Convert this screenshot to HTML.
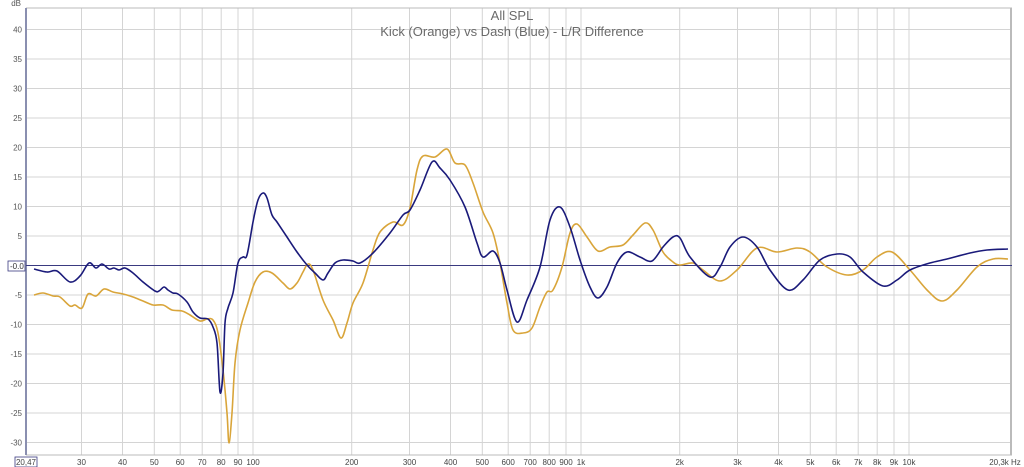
<!DOCTYPE html>
<html><head><meta charset="utf-8"><style>
html,body{margin:0;padding:0;background:#fff;width:1024px;height:467px;overflow:hidden}
svg{display:block}
text{font-family:"Liberation Sans",sans-serif}
</style></head><body>
<svg id="s" width="1024" height="467" viewBox="0 0 1024 467" xmlns="http://www.w3.org/2000/svg">
<rect width="1024" height="467" fill="#fff"/>
<g stroke="#d4d4d4" stroke-width="1">
<line x1="81.5" y1="8" x2="81.5" y2="455"/><line x1="122.5" y1="8" x2="122.5" y2="455"/>
<line x1="154.3" y1="8" x2="154.3" y2="455"/><line x1="180.2" y1="8" x2="180.2" y2="455"/>
<line x1="202.2" y1="8" x2="202.2" y2="455"/><line x1="221.2" y1="8" x2="221.2" y2="455"/>
<line x1="238" y1="8" x2="238" y2="455"/><line x1="253" y1="8" x2="253" y2="455"/>
<line x1="351.7" y1="8" x2="351.7" y2="455"/><line x1="409.5" y1="8" x2="409.5" y2="455"/>
<line x1="450.5" y1="8" x2="450.5" y2="455"/><line x1="482.3" y1="8" x2="482.3" y2="455"/>
<line x1="508.2" y1="8" x2="508.2" y2="455"/><line x1="530.2" y1="8" x2="530.2" y2="455"/>
<line x1="549.2" y1="8" x2="549.2" y2="455"/><line x1="566" y1="8" x2="566" y2="455"/>
<line x1="581" y1="8" x2="581" y2="455"/><line x1="679.7" y1="8" x2="679.7" y2="455"/>
<line x1="737.5" y1="8" x2="737.5" y2="455"/><line x1="778.5" y1="8" x2="778.5" y2="455"/>
<line x1="810.3" y1="8" x2="810.3" y2="455"/><line x1="836.2" y1="8" x2="836.2" y2="455"/>
<line x1="858.2" y1="8" x2="858.2" y2="455"/><line x1="877.2" y1="8" x2="877.2" y2="455"/>
<line x1="894" y1="8" x2="894" y2="455"/><line x1="909" y1="8" x2="909" y2="455"/>
<line x1="26" y1="29.5" x2="1012" y2="29.5"/><line x1="26" y1="59" x2="1012" y2="59"/>
<line x1="26" y1="88.5" x2="1012" y2="88.5"/><line x1="26" y1="118" x2="1012" y2="118"/>
<line x1="26" y1="147.5" x2="1012" y2="147.5"/><line x1="26" y1="177" x2="1012" y2="177"/>
<line x1="26" y1="206.5" x2="1012" y2="206.5"/><line x1="26" y1="236" x2="1012" y2="236"/>
<line x1="26" y1="295" x2="1012" y2="295"/><line x1="26" y1="324.5" x2="1012" y2="324.5"/>
<line x1="26" y1="354" x2="1012" y2="354"/><line x1="26" y1="383.5" x2="1012" y2="383.5"/>
<line x1="26" y1="413" x2="1012" y2="413"/><line x1="26" y1="442.5" x2="1012" y2="442.5"/>
</g>
<line x1="26" y1="8" x2="1012" y2="8" stroke="#bbb"/>
<line x1="26" y1="455" x2="1012" y2="455" stroke="#bbb"/>
<line x1="1011" y1="8" x2="1011" y2="455" stroke="#bbb" stroke-width="2"/>
<line x1="26" y1="8" x2="26" y2="455" stroke="#8a8fb0" stroke-width="2"/>
<line x1="26" y1="265.5" x2="1012" y2="265.5" stroke="#3a3a80" stroke-width="1"/>
<text x="512" y="20" text-anchor="middle" font-size="13" fill="#6a6a6a">All SPL</text>
<text x="512" y="36" text-anchor="middle" font-size="13" fill="#6a6a6a">Kick (Orange) vs Dash (Blue) - L/R Difference</text>
<g font-size="8" fill="#555" text-anchor="end">
<text x="21" y="6">dB</text>
<text x="22" y="32.5">40</text><text x="22" y="62">35</text><text x="22" y="91.5">30</text>
<text x="22" y="121">25</text><text x="22" y="150.5">20</text><text x="22" y="180">15</text>
<text x="22" y="209.5">10</text><text x="22" y="239">5</text>
<text x="22" y="298">-5</text><text x="22" y="327.5">-10</text><text x="22" y="357">-15</text>
<text x="22" y="386.5">-20</text><text x="22" y="416">-25</text><text x="22" y="445.5">-30</text>
</g>
<rect x="8" y="261" width="17" height="10" fill="#fff" stroke="#3a3a80" stroke-width="0.8"/>
<text x="10" y="269" font-size="8" fill="#333">-0.0</text>
<rect x="15" y="457" width="22" height="10" fill="#fff" stroke="#3a3a80" stroke-width="0.8"/>
<g font-size="8" fill="#444" text-anchor="middle">
<text x="26" y="465">20,47</text>
<text x="81.5" y="465">30</text><text x="122.5" y="465">40</text><text x="154.3" y="465">50</text>
<text x="180.2" y="465">60</text><text x="202.2" y="465">70</text><text x="221.2" y="465">80</text>
<text x="238" y="465">90</text><text x="253" y="465">100</text><text x="351.7" y="465">200</text>
<text x="409.5" y="465">300</text><text x="450.5" y="465">400</text><text x="482.3" y="465">500</text>
<text x="508.2" y="465">600</text><text x="530.2" y="465">700</text><text x="549.2" y="465">800</text>
<text x="566" y="465">900</text><text x="581" y="465">1k</text><text x="679.7" y="465">2k</text>
<text x="737.5" y="465">3k</text><text x="778.5" y="465">4k</text><text x="810.3" y="465">5k</text>
<text x="836.2" y="465">6k</text><text x="858.2" y="465">7k</text><text x="877.2" y="465">8k</text>
<text x="894" y="465">9k</text><text x="909" y="465">10k</text><text x="1005" y="465">20,3k Hz</text>
</g>
<polyline class="c" fill="none" stroke="#d9a53a" stroke-width="1.6" stroke-linejoin="round" points="34,295 43,293 53,296 60,297 70,306 75,305 82,308 88,294 96,296 104,289 113,292 123,294 133,297 143,301 153,305 163,305 172,310 182,311 190,315 200,321 207,319 213,320 218,333 223,370 227,413 229,443 232,413 235,363 240,330 248,303 255,282 263,272 272,273 283,283 290,289 297,283 303,272 308,264 313,270 323,300 333,320 341,338 347,323 353,303 363,283 373,250 380,232 393,222 403,225 410,208 417,170 423,156 435,157 447,149 455,163 465,165 473,183 483,212 493,233 500,263 507,303 513,330 523,333 532,328 540,307 547,292 553,290 562,267 570,233 577,224 587,237 598,251 610,247 623,245 633,235 645,223 653,230 663,252 673,262 680,265 693,263 703,270 720,281 737,270 757,248 777,252 797,248 810,252 827,267 847,275 863,270 877,257 892,252 910,270 927,290 942,301 957,290 977,267 993,259 1008,259"/>
<polyline class="c" fill="none" stroke="#1a1a7a" stroke-width="1.6" stroke-linejoin="round" points="34,269 47,272 57,271 70,282 80,276 89,263 96,268 102,264 109,269 114,268 119,270 125,268 133,273 143,282 155,291 159,291 164,287 168,290 173,293 178,294 187,302 193,312 200,318 208,319 213,327 217,343 220,392 223,373 225,323 228,308 233,293 238,263 243,257 247,255 253,222 258,200 263,193 267,198 272,215 277,222 287,237 297,252 307,265 315,273 323,280 328,273 335,263 343,260 353,261 360,263 373,253 390,233 403,215 410,210 420,190 432,162 440,168 450,180 465,207 477,243 483,257 493,251 500,263 507,290 517,322 527,300 540,267 550,220 560,207 570,227 580,260 590,287 598,298 607,287 617,263 627,252 640,257 652,261 663,247 673,237 680,238 690,257 710,277 720,267 730,247 743,237 757,247 770,270 788,290 803,280 820,260 837,254 850,257 863,272 883,286 897,280 910,270 930,263 947,259 970,253 987,250 1008,249"/>
</svg>
<script>
(function(){
var NS="http://www.w3.org/2000/svg";
var ps=document.querySelectorAll("polyline.c");
for(var k=0;k<ps.length;k++){
 var pl=ps[k];
 var p=pl.getAttribute("points").trim().split(/\s+/).map(function(s){var a=s.split(",");return[+a[0],+a[1]];});
 var d="M"+p[0][0]+","+p[0][1];
 for(var i=0;i<p.length-1;i++){
  var p0=p[i-1]||p[i],p1=p[i],p2=p[i+1],p3=p[i+2]||p2;
  var c1x=p1[0]+(p2[0]-p0[0])/6,c1y=p1[1]+(p2[1]-p0[1])/6;
  var c2x=p2[0]-(p3[0]-p1[0])/6,c2y=p2[1]-(p3[1]-p1[1])/6;
  d+=" C"+c1x.toFixed(1)+","+c1y.toFixed(1)+" "+c2x.toFixed(1)+","+c2y.toFixed(1)+" "+p2[0]+","+p2[1];
 }
 var path=document.createElementNS(NS,"path");
 path.setAttribute("d",d);path.setAttribute("fill","none");
 path.setAttribute("stroke",pl.getAttribute("stroke"));
 path.setAttribute("stroke-width","1.6");path.setAttribute("stroke-linejoin","round");
 pl.parentNode.replaceChild(path,pl);
}
})();
</script>
</body></html>
